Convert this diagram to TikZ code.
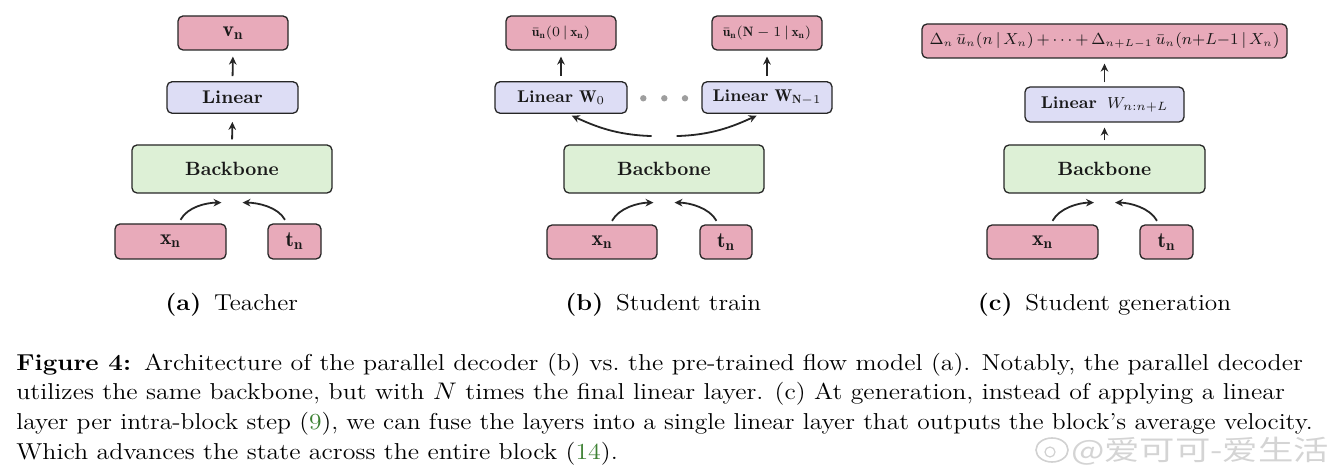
\documentclass[tikz,border=0pt]{standalone}
\usepackage{fontspec}
\newfontfamily\cjkwm{Noto Sans CJK SC}
\usetikzlibrary{arrows.meta,calc}
\definecolor{pinkc}{RGB}{232,170,186}
\definecolor{lavc}{RGB}{221,221,245}
\definecolor{greenc}{RGB}{221,240,214}
\definecolor{edgec}{RGB}{38,38,38}
\definecolor{refgreen}{RGB}{60,128,50}
\newcommand\szBox{\fontsize{9.6}{11}\selectfont}
\newcommand\szLinA{\fontsize{9.2}{11}\selectfont}
\newcommand\szLinB{\fontsize{8.5}{10}\selectfont}
\newcommand\szVar{\fontsize{10.8}{12}\selectfont}
\newcommand\szOut{\fontsize{6.8}{8}\selectfont}
\newcommand\szTop{\fontsize{7.6}{9}\selectfont}
\newcommand\szSub{\fontsize{11.5}{13}\selectfont}
\newcommand\szCap{\fontsize{11.5}{14}\selectfont}
\newcommand\wideTxt[2][1.1]{\scalebox{#1}[1]{#2}}
\begin{document}
\begin{tikzpicture}[x=0.5pt,y=-0.5pt,
  box/.style={draw=edgec,line width=0.65pt,rounded corners=2.5pt,inner sep=0pt,align=center,text=black!90},
  pbox/.style={box,fill=pinkc},
  lbox/.style={box,fill=lavc},
  gbox/.style={box,fill=greenc,font=\szBox},
  arr/.style={draw=edgec,line width=0.9pt,-{Stealth[length=4pt,width=3.8pt]}},
  dotn/.style={circle,fill=black!38,inner sep=0pt,minimum size=3.2pt},
  subcap/.style={anchor=base,font=\szSub,inner sep=0pt},
  capline/.style={anchor=base west,font=\szCap,inner sep=0pt}]
\useasboundingbox (0,0) rectangle (1340,475);

% ---------- (a) Teacher ----------
\node[pbox,minimum width=55pt,minimum height=17pt,font=\szVar] (vn) at (233,33) {$\mathbf{v}_{\mathbf{n}}$};
\node[lbox,minimum width=65.5pt,minimum height=15.75pt,font=\szLinA] (linA) at (232.5,97.5) {\textbf{Linear}};
\node[gbox,minimum width=100pt,minimum height=24pt] (bbA) at (232,169) {\textbf{Backbone}};
\node[pbox,minimum width=55.5pt,minimum height=17.5pt,font=\szVar] (xA) at (170.5,241.5) {$\mathbf{x}_{\mathbf{n}}$};
\node[pbox,minimum width=26.5pt,minimum height=17.5pt,font=\szVar] (tA) at (294.5,241.5) {$\mathbf{t}_{\mathbf{n}}$};
\draw[arr,shorten <=2.5pt,shorten >=3pt] (linA.north) -- (vn.south);
\draw[arr,shorten <=2.5pt,shorten >=4pt] (bbA.north) -- (linA.south);
\coordinate (aS1) at ($(xA.north)+(10,-3.5)$);
\coordinate (aE1) at ($(bbA.south)+(-10.5,9)$);
\coordinate (aS2) at ($(tA.north)+(-9.5,-3.5)$);
\coordinate (aE2) at ($(bbA.south)+(10.5,9)$);
\draw[arr] (aS1) .. controls +(7,-13) and +(-15,0) .. (aE1);
\draw[arr] (aS2) .. controls +(-7,-13) and +(15,0) .. (aE2);
\node[subcap] (capA) at (231.7,311) {\wideTxt{\textbf{(a)}\hspace{0.5em}Teacher}};

% ---------- (b) Student train ----------
\node[pbox,minimum width=55pt,minimum height=17pt,font=\szOut] (u0) at (561,33) {$\bar{\mathbf{u}}_{\mathbf{n}}(0\,|\,\mathbf{x}_{\mathbf{n}})$};
\node[pbox,minimum width=55pt,minimum height=17pt,font=\szOut] (uN) at (767,33) {$\bar{\mathbf{u}}_{\mathbf{n}}(\mathbf{N}-1\,|\,\mathbf{x}_{\mathbf{n}})$};
\node[lbox,minimum width=66pt,minimum height=15.75pt,font=\szLinB] (lin0) at (561,97.5) {\textbf{Linear} $\mathbf{W}_{0}$};
\node[lbox,minimum width=65pt,minimum height=15.75pt,font=\szLinB] (linN) at (767,97.5) {\textbf{Linear} $\mathbf{W}_{\mathbf{N}-1}$};
\node[dotn] (d1) at (643.3,98.3) {};
\node[dotn] (d2) at (664.3,98.3) {};
\node[dotn] (d3) at (685,98.3) {};
\node[gbox,minimum width=100pt,minimum height=24pt] (bbB) at (664,169) {\textbf{Backbone}};
\node[pbox,minimum width=55pt,minimum height=17pt,font=\szVar] (xB) at (602,242) {$\mathbf{x}_{\mathbf{n}}$};
\node[pbox,minimum width=26pt,minimum height=17pt,font=\szVar] (tB) at (726,242) {$\mathbf{t}_{\mathbf{n}}$};
\draw[arr,shorten <=2.5pt,shorten >=3pt] (lin0.north) -- (u0.south);
\draw[arr,line width=0.65pt,shorten <=2.5pt,shorten >=3pt] (linN.north) -- (uN.south);
\coordinate (bU1) at ($(bbB.north)+(-12.3,-8.3)$);
\coordinate (bV1) at ($(lin0.south)+(10.7,1.7)$);
\coordinate (bU2) at ($(bbB.north)+(12.7,-8.3)$);
\coordinate (bV2) at ($(linN.south)+(-10.3,1.7)$);
\draw[arr] (bU1) .. controls +(-35,-1) and +(24,11) .. (bV1);
\draw[arr] (bU2) .. controls +(35,-1) and +(-24,11) .. (bV2);
\coordinate (bS1) at ($(xB.north)+(10,-3.5)$);
\coordinate (bE1) at ($(bbB.south)+(-10.5,9)$);
\coordinate (bS2) at ($(tB.north)+(-9.5,-3.5)$);
\coordinate (bE2) at ($(bbB.south)+(10.5,9)$);
\draw[arr] (bS1) .. controls +(7,-13) and +(-15,0) .. (bE1);
\draw[arr] (bS2) .. controls +(-7,-13) and +(15,0) .. (bE2);
\node[subcap] (capB) at (663.3,311) {\wideTxt{\textbf{(b)}\hspace{0.5em}Student train}};

% ---------- (c) Student generation ----------
\node[pbox,minimum width=182.5pt,minimum height=17pt,font=\szTop] (topC) at (1104.5,41)
  {$\medmuskip=3mu\Delta_n\,\bar{u}_n(n\,|\,X_n)+\cdots+\Delta_{n+L-1}\,\bar{u}_n(n{+}L{-}1\,|\,X_n)$};
\node[lbox,minimum width=79.5pt,minimum height=17.5pt,font=\szLinB] (linC) at (1104.5,104.5) {\textbf{Linear}\hspace{0.6em}$W_{n:n+L}$};
\node[gbox,minimum width=100.5pt,minimum height=24pt] (bbC) at (1104.5,169) {\textbf{Backbone}};
\node[pbox,minimum width=55.5pt,minimum height=17pt,font=\szVar] (xC) at (1042.5,242) {$\mathbf{x}_{\mathbf{n}}$};
\node[pbox,minimum width=26.5pt,minimum height=17pt,font=\szVar] (tC) at (1166.5,242) {$\mathbf{t}_{\mathbf{n}}$};
\draw[arr,shorten <=2pt,shorten >=2.5pt] (linC.north) -- (topC.south);
\draw[arr,shorten <=2pt,shorten >=2.5pt] (bbC.north) -- (linC.south);
\coordinate (cS1) at ($(xC.north)+(10,-3.5)$);
\coordinate (cE1) at ($(bbC.south)+(-10.5,9)$);
\coordinate (cS2) at ($(tC.north)+(-9.5,-3.5)$);
\coordinate (cE2) at ($(bbC.south)+(10.5,9)$);
\draw[arr] (cS1) .. controls +(7,-13) and +(-15,0) .. (cE1);
\draw[arr] (cS2) .. controls +(-7,-13) and +(15,0) .. (cE2);
\node[subcap] (capC) at (1104.5,311) {\wideTxt{\textbf{(c)}\hspace{0.5em}Student generation}};

% ---------- figure caption ----------
\node[capline] (l1) at (16,370.7) {\wideTxt[1.126]{\textbf{Figure 4:}\hspace{0.5em}Architecture of the parallel decoder (b) vs.\ the pre-trained flow model (a). Notably, the parallel decoder}};
\node[capline] (l2) at (16,400) {\wideTxt[1.126]{utilizes the same backbone, but with $N$ times the final linear layer. (c) At generation, instead of applying a linear}};
\node[capline] (l3) at (16,430) {\wideTxt[1.108]{layer per intra-block step ({\color{refgreen}9}), we can fuse the layers into a single linear layer that outputs the block's average velocity.}};
\node[capline] (l4) at (16,460) {\wideTxt[1.126]{Which advances the state across the entire block ({\color{refgreen}14}).}};

% ---------- watermark ----------
\draw[black!18,line width=0.8pt] (1052,450) ellipse [x radius=8pt,y radius=6pt];
\draw[black!18,line width=0.6pt] (1050,452) circle [radius=2.5pt];
\node[font=\cjkwm\fontsize{17}{17}\selectfont,text=black!17,inner sep=0pt] (wm) at (1200,451) {\scalebox{1.04}[0.82]{@爱可可-爱生活}};
\end{tikzpicture}
\end{document}
